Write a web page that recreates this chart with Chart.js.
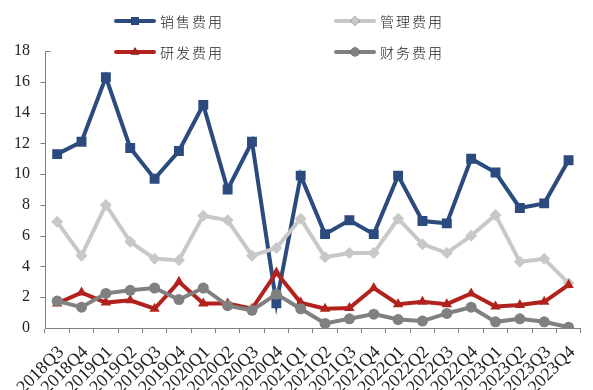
<!DOCTYPE html>
<html>
<head>
<meta charset="utf-8">
<script src="https://cdn.jsdelivr.net/npm/chart.js@4"></script>
<style>
  html, body { margin: 0; padding: 0; background: #fff; }
  #wrap { position: relative; width: 593px; height: 390px; }
  #legend { position: absolute; left: 0; top: 0; width: 593px; height: 70px; pointer-events: none; }
  .item { position: absolute; display: flex; align-items: center; height: 20px; }
  .item canvas { display: block; }
  .item span { font-family: "Noto Sans CJK SC", sans-serif; font-weight: 300; font-size: 14px; letter-spacing: 2px; color: #222; margin-left: 4px; }
</style>
</head>
<body>
<div id="wrap">
  <canvas id="chart" width="593" height="390"></canvas>
  <div id="legend"></div>
</div>
<script>
// Quarterly expense ratios (%)
const quarters = ['2018Q3','2018Q4','2019Q1','2019Q2','2019Q3','2019Q4','2020Q1','2020Q2','2020Q3','2020Q4',
  '2021Q1','2021Q2','2021Q3','2021Q4','2022Q1','2022Q2','2022Q3','2022Q4','2023Q1','2023Q2','2023Q3','2023Q4'];
const salesExp   = [11.3, 12.1, 16.3, 11.7, 9.7, 11.5, 14.5, 9.0, 12.1, 1.6, 9.9, 6.1, 7.0, 6.1, 9.9, 6.95, 6.8, 11.0, 10.1, 7.8, 8.1, 10.9];
const adminExp   = [6.9, 4.7, 8.0, 5.6, 4.5, 4.4, 7.3, 7.0, 4.7, 5.2, 7.1, 4.6, 4.87, 4.87, 7.1, 5.45, 4.87, 6.0, 7.35, 4.3, 4.5, 2.9];
const rndExp     = [1.6, 2.3, 1.65, 1.8, 1.25, 3.0, 1.6, 1.6, 1.25, 3.6, 1.65, 1.25, 1.3, 2.6, 1.55, 1.7, 1.55, 2.25, 1.4, 1.5, 1.7, 2.8];
const financeExp = [1.75, 1.35, 2.25, 2.45, 2.6, 1.85, 2.6, 1.45, 1.15, 2.2, 1.25, 0.3, 0.6, 0.9, 0.55, 0.45, 0.95, 1.35, 0.4, 0.6, 0.4, 0.05];
const yTicks = [0, 2, 4, 6, 8, 10, 12, 14, 16, 18];

const series = [
  { label: '销售费用', data: salesExp,   color: '#2B4B7F', style: 'rect',     radius: 7,   order: 4, lx: 114, ly: 11 },
  { label: '管理费用', data: adminExp,   color: '#C8C8C8', style: 'rectRot',  radius: 6,   order: 3, lx: 334, ly: 11 },
  { label: '研发费用', data: rndExp,     color: '#B2221C', style: 'triangle', radius: 6,   order: 2, lx: 114, ly: 42 },
  { label: '财务费用', data: financeExp, color: '#808080', style: 'circle',   radius: 5.5, order: 1, lx: 334, ly: 42 }
];

// Legend: line segment with marker, followed by the series name
const legendEl = document.getElementById('legend');
series.forEach(s => {
  const item = document.createElement('div');
  item.className = 'item';
  item.style.left = s.lx + 'px';
  item.style.top = s.ly + 'px';
  const c = document.createElement('canvas');
  c.width = 42; c.height = 20;
  const g = c.getContext('2d');
  g.strokeStyle = s.color; g.lineWidth = 4; g.lineCap = 'round';
  g.beginPath(); g.moveTo(2, 10); g.lineTo(40, 10); g.stroke();
  Chart.helpers.drawPoint(g, { pointStyle: s.style, radius: s.radius * 0.8, borderWidth: 0 }, 21, 10);
  g.fillStyle = s.color; g.fill();
  item.appendChild(c);
  const t = document.createElement('span');
  t.textContent = s.label;
  item.appendChild(t);
  legendEl.appendChild(item);
});

// Short tick marks on the value axis (outward, with an inward cap at the top)
const valueTicks = {
  id: 'valueTicks',
  afterDraw(chart) {
    const y = chart.scales.y, ctx = chart.ctx, x0 = Math.round(chart.chartArea.left) + 0.5;
    ctx.save();
    ctx.strokeStyle = '#7f7f7f'; ctx.lineWidth = 1;
    y.ticks.forEach(t => {
      if (t.value === 0) return;
      const py = Math.round(y.getPixelForValue(t.value)) + 0.5;
      ctx.beginPath();
      if (t.value === y.max) { ctx.moveTo(x0, py); ctx.lineTo(x0 + 5, py); }
      else { ctx.moveTo(x0 - 5, py); ctx.lineTo(x0, py); }
      ctx.stroke();
    });
    ctx.restore();
  }
};

new Chart(document.getElementById('chart'), {
  type: 'line',
  data: {
    labels: quarters,
    datasets: series.map(s => ({
      label: s.label,
      data: s.data,
      order: s.order,
      borderColor: s.color,
      backgroundColor: s.color,
      borderWidth: 4,
      pointStyle: s.style,
      pointRadius: s.radius,
      pointBorderWidth: 0,
      pointHoverRadius: s.radius,
      tension: 0,
      fill: false
    }))
  },
  options: {
    responsive: false,
    animation: false,
    events: [],
    layout: { padding: { top: 51, right: 3, left: 0, bottom: 0 } },
    plugins: { legend: { display: false }, tooltip: { enabled: false } },
    scales: {
      x: {
        offset: true,
        grid: { display: true, offset: true, drawOnChartArea: false, tickLength: 5, color: '#7f7f7f' },
        border: { display: true, color: '#7f7f7f', width: 1 },
        ticks: {
          autoSkip: false, maxRotation: 45, minRotation: 45, padding: 9, labelOffset: 4,
          color: '#222', font: { family: '"Liberation Serif", "Times New Roman", serif', size: 18 }
        },
        afterFit(scale) { scale.height = 62; }
      },
      y: {
        min: 0, max: 18,
        afterBuildTicks(scale) { scale.ticks = yTicks.map(v => ({ value: v })); },
        grid: { display: false, drawTicks: false },
        border: { display: true, color: '#7f7f7f', width: 1 },
        ticks: {
          padding: 15, color: '#222',
          font: { family: '"Liberation Serif", "Times New Roman", serif', size: 16 }
        },
        afterFit(scale) { scale.width = 45; }
      }
    }
  },
  plugins: [valueTicks]
});
</script>
</body>
</html>
